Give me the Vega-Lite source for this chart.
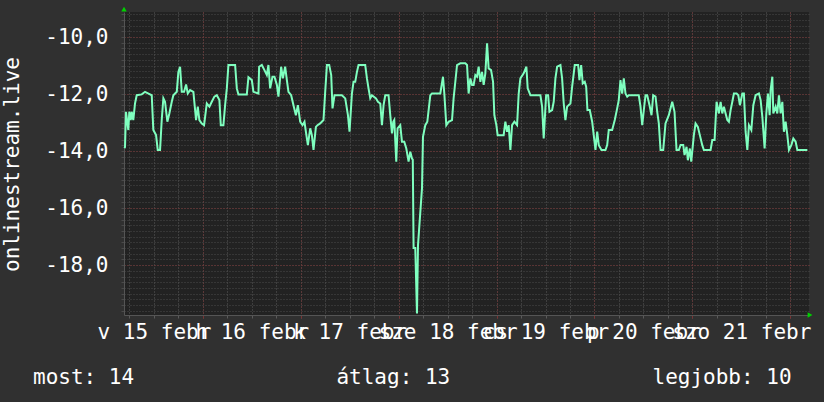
{
  "$schema": "https://vega.github.io/schema/vega-lite/v6.json",
  "width": 685,
  "height": 303,
  "autosize": {"type": "none"},
  "padding": {"left": 124, "top": 12, "right": 15, "bottom": 87},
  "background": "#303030",
  "config": {
    "view": {"stroke": null, "fill": "#222222"},
    "axis": {"labelFont": "DejaVu Sans Mono", "labelFontSize": 21, "labelColor": "#ffffff", "titleFont": "DejaVu Sans Mono", "titleFontSize": 21, "titleFontWeight": "normal", "titleColor": "#ffffff"}
  },
  "title": {
    "text": "most: 14\u00a0\u00a0\u00a0\u00a0\u00a0\u00a0\u00a0\u00a0\u00a0\u00a0\u00a0\u00a0\u00a0\u00a0\u00a0\u00a0átlag: 13\u00a0\u00a0\u00a0\u00a0\u00a0\u00a0\u00a0\u00a0\u00a0\u00a0\u00a0\u00a0\u00a0\u00a0\u00a0\u00a0legjobb: 10",
    "orient": "bottom", "anchor": "start", "frame": "group", "dx": -91, "offset": 42,
    "baseline": "alphabetic",
    "font": "DejaVu Sans Mono", "fontSize": 21, "fontWeight": "normal", "color": "#ffffff"
  },
  "datasets": {
    "series": [
      {"h":4.8,"v":-13.9},{"h":4.91,"v":-13.85},{"h":5.15,"v":-12.62},{"h":5.72,"v":-13.26},{"h":5.96,"v":-12.62},{"h":6.31,"v":-12.91},{"h":6.55,"v":-12.62},{"h":6.94,"v":-12.91},{"h":7.36,"v":-12.33},{"h":7.78,"v":-12.04},{"h":9.01,"v":-12.01},{"h":9.82,"v":-11.92},{"h":11.04,"v":-12.01},{"h":11.46,"v":-12.04},{"h":11.85,"v":-13.26},{"h":12.52,"v":-13.44},{"h":12.93,"v":-13.96},{"h":13.5,"v":-13.96},{"h":13.91,"v":-12.91},{"h":14.31,"v":-12.15},{"h":14.72,"v":-12.27},{"h":15.29,"v":-12.97},{"h":15.78,"v":-12.68},{"h":16.37,"v":-12.27},{"h":16.76,"v":-12.04},{"h":17.6,"v":-11.92},{"h":17.99,"v":-11.22},{"h":18.41,"v":-11.04},{"h":18.82,"v":-11.92},{"h":19.39,"v":-11.92},{"h":19.88,"v":-11.66},{"h":20.29,"v":-11.98},{"h":20.86,"v":-11.86},{"h":21.67,"v":-11.92},{"h":22.33,"v":-12.91},{"h":22.75,"v":-12.44},{"h":23.14,"v":-12.91},{"h":23.73,"v":-13.03},{"h":24.29,"v":-13.09},{"h":24.96,"v":-12.33},{"h":25.6,"v":-12.44},{"h":26.18,"v":-12.27},{"h":26.82,"v":-12.09},{"h":27.41,"v":-12.04},{"h":28.05,"v":-12.21},{"h":28.39,"v":-13.09},{"h":29.03,"v":-13.09},{"h":29.45,"v":-12.39},{"h":29.87,"v":-11.8},{"h":30.26,"v":-10.98},{"h":31.9,"v":-10.98},{"h":32.32,"v":-11.8},{"h":32.71,"v":-12.01},{"h":34.77,"v":-12.01},{"h":35.17,"v":-11.41},{"h":36.0,"v":-11.51},{"h":36.39,"v":-11.92},{"h":37.62,"v":-11.98},
      {"h":37.79,"v":-11.04},{"h":38.45,"v":-10.98},{"h":39.09,"v":-11.16},{"h":39.68,"v":-11.33},{"h":40.07,"v":-10.98},{"h":40.49,"v":-11.8},{"h":41.06,"v":-11.39},{"h":41.55,"v":-11.39},{"h":42.14,"v":-11.68},{"h":42.53,"v":-12.09},{"h":43.19,"v":-11.04},{"h":43.61,"v":-11.45},{"h":44.17,"v":-11.04},{"h":44.59,"v":-11.51},{"h":44.98,"v":-11.92},{"h":45.64,"v":-12.04},{"h":46.21,"v":-12.39},{"h":46.8,"v":-12.74},{"h":47.29,"v":-12.39},{"h":47.85,"v":-12.97},{"h":48.42,"v":-13.09},{"h":48.91,"v":-12.97},{"h":49.25,"v":-13.32},{"h":49.74,"v":-13.79},{"h":50.31,"v":-13.2},{"h":50.72,"v":-13.44},{"h":51.12,"v":-13.96},{"h":51.71,"v":-13.15},{"h":52.1,"v":-13.09},{"h":52.76,"v":-13.03},{"h":53.57,"v":-12.91},{"h":53.99,"v":-11.92},{"h":54.41,"v":-10.98},{"h":54.97,"v":-10.98},{"h":55.46,"v":-11.33},{"h":55.78,"v":-12.5},{"h":56.27,"v":-12.04},{"h":58.09,"v":-12.04},{"h":58.9,"v":-12.15},{"h":59.56,"v":-12.74},{"h":59.95,"v":-13.32},{"h":60.54,"v":-11.98},{"h":60.93,"v":-11.57},{"h":61.35,"v":-11.57},{"h":61.77,"v":-11.22},{"h":62.16,"v":-10.98},{"h":63.8,"v":-10.98},{"h":64.22,"v":-11.45},{"h":64.61,"v":-11.8},{"h":65.03,"v":-12.15},{"h":65.45,"v":-12.04},{"h":66.43,"v":-12.15},{"h":66.92,"v":-12.27},{"h":67.49,"v":-12.33},{"h":67.9,"v":-13.09},{"h":68.3,"v":-12.39},{"h":68.71,"v":-12.04},{"h":69.52,"v":-12.04},{"h":69.94,"v":-12.74},{"h":70.36,"v":-13.38},
      {"h":70.68,"v":-12.97},{"h":70.92,"v":-12.91},{"h":71.41,"v":-14.37},{"h":71.73,"v":-13.2},{"h":72.39,"v":-13.09},{"h":72.81,"v":-13.67},{"h":73.37,"v":-13.67},{"h":73.87,"v":-13.91},{"h":74.43,"v":-14.37},{"h":74.85,"v":-14.02},{"h":75.26,"v":-14.26},{"h":75.46,"v":-14.3},{"h":75.66,"v":-17.4},{"h":76.07,"v":-17.4},{"h":76.49,"v":-19.7},{"h":76.74,"v":-17.3},{"h":77.13,"v":-16.5},{"h":77.72,"v":-15.3},{"h":77.96,"v":-13.5},{"h":78.53,"v":-13.09},{"h":79.02,"v":-12.97},{"h":79.76,"v":-12.04},{"h":80.17,"v":-11.98},{"h":82.21,"v":-11.98},{"h":82.87,"v":-11.39},{"h":83.19,"v":-11.98},{"h":83.68,"v":-13.09},{"h":84.25,"v":-12.97},{"h":85.08,"v":-12.91},{"h":85.47,"v":-12.15},{"h":86.31,"v":-10.98},{"h":87.12,"v":-10.92},{"h":88.34,"v":-10.92},{"h":88.76,"v":-10.98},{"h":89.15,"v":-11.98},{"h":89.57,"v":-11.45},{"h":89.99,"v":-11.68},{"h":90.38,"v":-11.68},{"h":90.8,"v":-11.33},{"h":91.22,"v":-11.39},{"h":91.61,"v":-11.04},{"h":92.03,"v":-11.57},{"h":92.44,"v":-11.22},{"h":92.84,"v":-11.68},{"h":93.25,"v":-11.27},{"h":93.67,"v":-10.22},{"h":94.06,"v":-11.1},{"h":94.65,"v":-11.16},{"h":95.14,"v":-11.57},{"h":95.46,"v":-12.74},{"h":95.95,"v":-13.09},{"h":96.27,"v":-13.44},{"h":97.74,"v":-13.44},{"h":98.16,"v":-12.97},{"h":98.58,"v":-13.32},{"h":98.97,"v":-13.09},{"h":99.39,"v":-13.96},{"h":99.8,"v":-13.09},{"h":100.37,"v":-12.97},{"h":101.03,"v":-13.09},{"h":101.43,"v":-11.98},{"h":101.84,"v":-11.45},{"h":102.65,"v":-11.27},{"h":103.31,"v":-11.04},{"h":103.63,"v":-11.8},
      {"h":104.3,"v":-12.04},{"h":106.75,"v":-12.04},{"h":107.17,"v":-12.44},{"h":107.56,"v":-13.56},{"h":108.15,"v":-12.04},{"h":108.64,"v":-12.04},{"h":108.96,"v":-12.62},{"h":109.62,"v":-12.56},{"h":110.01,"v":-12.27},{"h":110.43,"v":-11.45},{"h":110.85,"v":-11.04},{"h":111.66,"v":-10.98},{"h":112.07,"v":-11.45},{"h":112.47,"v":-12.33},{"h":112.88,"v":-12.91},{"h":113.3,"v":-12.44},{"h":114.11,"v":-12.33},{"h":114.53,"v":-11.74},{"h":115.17,"v":-10.98},{"h":116.0,"v":-10.98},{"h":116.32,"v":-11.51},{"h":116.74,"v":-10.98},{"h":117.13,"v":-11.63},{"h":117.62,"v":-11.57},{"h":117.97,"v":-11.74},{"h":118.28,"v":-12.56},{"h":118.85,"v":-12.56},{"h":119.44,"v":-12.97},{"h":119.83,"v":-13.44},{"h":120.25,"v":-13.96},{"h":120.67,"v":-13.32},{"h":121.06,"v":-13.79},{"h":121.72,"v":-13.96},{"h":122.7,"v":-13.96},{"h":123.12,"v":-13.79},{"h":123.51,"v":-13.26},{"h":124.34,"v":-13.26},{"h":124.98,"v":-12.91},{"h":125.57,"v":-12.5},{"h":125.96,"v":-12.21},{"h":126.38,"v":-11.51},{"h":126.8,"v":-11.98},{"h":127.19,"v":-11.45},{"h":127.61,"v":-11.98},{"h":128.03,"v":-12.09},{"h":128.42,"v":-12.04},{"h":130.87,"v":-12.04},{"h":131.29,"v":-12.44},{"h":131.71,"v":-13.09},{"h":132.1,"v":-12.56},{"h":132.52,"v":-12.04},{"h":132.93,"v":-12.04},{"h":133.5,"v":-12.39},{"h":133.99,"v":-12.74},{"h":134.4,"v":-12.04},{"h":134.97,"v":-12.09},{"h":135.39,"v":-12.62},{"h":135.78,"v":-13.03},{"h":136.2,"v":-13.96},
      {"h":136.86,"v":-13.96},{"h":137.42,"v":-13.03},{"h":138.23,"v":-12.74},{"h":139.07,"v":-12.27},{"h":139.63,"v":-12.62},{"h":140.12,"v":-13.96},{"h":140.69,"v":-13.96},{"h":141.11,"v":-13.79},{"h":141.77,"v":-13.79},{"h":142.09,"v":-14.14},{"h":142.58,"v":-13.85},{"h":142.9,"v":-14.32},{"h":143.39,"v":-13.91},{"h":143.73,"v":-14.37},{"h":144.37,"v":-13.44},{"h":144.79,"v":-13.03},{"h":145.35,"v":-13.15},{"h":145.84,"v":-13.44},{"h":146.43,"v":-13.79},{"h":146.83,"v":-13.96},{"h":148.47,"v":-13.96},{"h":148.89,"v":-13.61},{"h":149.45,"v":-13.61},{"h":149.94,"v":-12.27},{"h":150.51,"v":-12.68},{"h":150.93,"v":-12.27},{"h":151.34,"v":-12.68},{"h":151.74,"v":-12.44},{"h":152.15,"v":-12.68},{"h":152.57,"v":-12.91},{"h":152.96,"v":-12.97},{"h":153.38,"v":-12.56},{"h":153.8,"v":-12.27},{"h":154.19,"v":-11.98},{"h":154.85,"v":-11.98},{"h":155.27,"v":-12.04},{"h":155.66,"v":-12.39},{"h":156.25,"v":-11.98},{"h":156.64,"v":-11.98},{"h":157.06,"v":-13.32},{"h":157.48,"v":-13.96},{"h":157.87,"v":-13.09},{"h":158.46,"v":-13.26},{"h":158.95,"v":-12.39},{"h":159.51,"v":-12.04},{"h":160.32,"v":-11.98},{"h":160.74,"v":-12.21},{"h":161.16,"v":-12.8},{"h":161.72,"v":-13.91},{"h":162.14,"v":-12.68},{"h":162.53,"v":-11.98},{"h":162.95,"v":-12.74},{"h":163.19,"v":-11.86},{"h":163.61,"v":-11.39},{"h":163.85,"v":-12.68},{"h":164.42,"v":-12.44},{"h":164.83,"v":-12.68},{"h":165.23,"v":-12.04},{"h":165.64,"v":-12.68},{"h":166.06,"v":-12.27},{"h":166.45,"v":-13.32},{"h":166.87,"v":-12.97},{"h":167.29,"v":-13.44},{"h":167.68,"v":-13.96},{"h":168.27,"v":-13.79},{"h":168.76,"v":-13.56},{"h":169.32,"v":-13.67},{"h":169.74,"v":-13.96},{"h":172.2,"v":-13.96}
    ],
    "topArrow": [{"h": 4.66, "v": -9.02}],
    "rightArrow": [{"h": 172.85, "v": -19.75}]
  },
  "data": {"name": "series"},
  "layer": [
    {
      "mark": {"type": "line", "opacity": 0},
      "encoding": {
        "x": {"field": "h", "type": "quantitative", "scale": {"domain": [4.66, 172.6], "nice": false, "zero": false},
          "axis": {"orient": "bottom", "values": [6,12,18,24,30,36,42,48,54,60,66,72,78,84,90,96,102,108,114,120,126,132,138,144,150,156,162,168], "grid": true, "gridColor": "#5a5a5a", "gridDash": [1, 2], "gridWidth": 1, "labels": false, "domain": false, "ticks": true, "tickColor": "#5a5a5a", "tickSize": 3, "title": null}},
        "y": {"field": "v", "type": "quantitative", "scale": {"domain": [-19.75, -9.12], "nice": false, "zero": false},
          "axis": {"orient": "left", "values": [-9.2,-9.4,-9.6,-9.8,-10,-10.2,-10.4,-10.6,-10.8,-11,-11.2,-11.4,-11.6,-11.8,-12,-12.2,-12.4,-12.6,-12.8,-13,-13.2,-13.4,-13.6,-13.8,-14,-14.2,-14.4,-14.6,-14.8,-15,-15.2,-15.4,-15.6,-15.8,-16,-16.2,-16.4,-16.6,-16.8,-17,-17.2,-17.4,-17.6,-17.8,-18,-18.2,-18.4,-18.6,-18.8,-19,-19.2,-19.4,-19.6], "grid": true, "gridColor": "#4a4a4a", "gridDash": [1, 2], "gridWidth": 1, "labels": false, "domain": false, "ticks": true, "tickColor": "#4a4a4a", "tickSize": 3, "title": null}}
      }
    },
    {
      "mark": {"type": "line", "opacity": 0},
      "encoding": {
        "x": {"field": "h", "type": "quantitative",
          "axis": {"orient": "bottom", "values": [24,48,72,96,120,144,168], "grid": true, "gridColor": "#7a3232", "gridDash": [1, 2], "gridWidth": 1, "labels": false, "domain": true, "domainColor": "#555555", "ticks": true, "tickColor": "#7a3232", "tickSize": 3, "title": null}},
        "y": {"field": "v", "type": "quantitative",
          "axis": {"orient": "left", "values": [-10,-12,-14,-16,-18], "grid": true, "gridColor": "#7a3232", "gridDash": [1, 2], "gridWidth": 1, "domain": true, "domainColor": "#555555", "ticks": false, "tickSize": 0, "labelPadding": 16,
            "labelExpr": "(datum.value < 0 ? '-' : '') + replace(format(abs(datum.value), '.1f'), '.', ',')",
            "title": "onlinestream.live", "titleX": -106, "titleY": 152, "titleAngle": -90, "titleBaseline": "alphabetic", "titleAlign": "center"}}
      }
    },
    {
      "mark": {"type": "line", "opacity": 0},
      "encoding": {
        "x": {"field": "h", "type": "quantitative",
          "axis": {"orient": "bottom", "values": [12,36,60,84,108,132,156], "grid": false, "domain": false, "ticks": false, "tickSize": 0, "labelPadding": 23, "labelBaseline": "alphabetic", "labelOverlap": false, "labelBound": false, "labelFlush": false,
            "labelExpr": "['v 15 febr','h 16 febr','k 17 febr','sze 18 febr','cs 19 febr','p 20 febr','szo 21 febr'][floor(datum.value / 24)]", "title": null}},
        "y": {"field": "v", "type": "quantitative", "axis": null}
      }
    },
    {
      "mark": {"type": "line", "color": "#7fffbf", "strokeWidth": 2, "interpolate": "linear"},
      "encoding": {
        "x": {"field": "h", "type": "quantitative", "axis": null},
        "y": {"field": "v", "type": "quantitative", "axis": null}
      }
    },
    {
      "data": {"name": "topArrow"},
      "mark": {"type": "point", "shape": "triangle-up", "filled": true, "color": "#00d000", "size": 30, "opacity": 1},
      "encoding": {
        "x": {"field": "h", "type": "quantitative", "axis": null},
        "y": {"field": "v", "type": "quantitative", "axis": null}
      }
    },
    {
      "data": {"name": "rightArrow"},
      "mark": {"type": "point", "shape": "triangle-right", "filled": true, "color": "#00d000", "size": 30, "opacity": 1},
      "encoding": {
        "x": {"field": "h", "type": "quantitative", "axis": null},
        "y": {"field": "v", "type": "quantitative", "axis": null}
      }
    }
  ],
  "resolve": {"axis": {"x": "independent", "y": "independent"}}
}
